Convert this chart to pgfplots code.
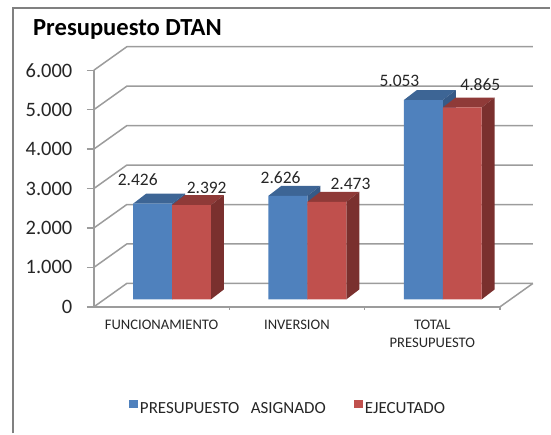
\documentclass[border=0pt]{standalone}
\usepackage{fontspec}
\setmainfont{Carlito}
\usepackage{pgfplots}
\pgfplotsset{compat=1.18}
\definecolor{wall}{HTML}{9C9C9C}
\definecolor{ink}{HTML}{262626}
\definecolor{azul}{HTML}{4F81BD}
\definecolor{azultop}{HTML}{3D6595}
\definecolor{azulside}{HTML}{365A87}
\definecolor{rojo}{HTML}{C0504D}
\definecolor{rojotop}{HTML}{8F3A38}
\definecolor{rojoside}{HTML}{7A302E}

% top and side of a bar: left edge, right edge, value, colours
\newcommand{\barfaces}[5]{%
  \pgfmathsetmacro{\xa}{#2+0.0959}%
  \pgfmathsetmacro{\xb}{#1+0.0959}%
  \pgfmathsetmacro{\vb}{#3+253}%
  \addplot[forget plot, fill=#4, draw=none, xshift=10.5pt, yshift=7.5pt]
    coordinates {(#1,#3) (#2,#3) (\xa,\vb) (\xb,\vb) (#1,#3)};
  \addplot[forget plot, fill=#5, draw=none, xshift=10.5pt, yshift=7.5pt]
    coordinates {(#2,0) (\xa,253) (\xa,\vb) (#2,#3) (#2,0)};
}
\newcommand{\vallabel}[5]{%
  \node[font=\fontsize{17.5}{17}\selectfont, text=ink, inner sep=0pt, xshift=#3pt, yshift=#4pt]
    at (axis cs:#1,#2) {#5};
}

\begin{document}
\begin{tikzpicture}
\path (-94pt,-126.7pt) rectangle (457pt,307.3pt);
\begin{axis}[
  scale only axis, width=406.7pt, height=237pt,
  xmin=0, xmax=3, ymin=0, ymax=6000, clip=false,
  axis lines*=left,
  axis line style={wall, line width=1.5pt},
  xtick={0.5,1.5,2.5},
  xticklabels={FUNCIONAMIENTO,INVERSION,TOTAL\\PRESUPUESTO},
  xtick style={draw=none},
  x tick label style={font=\fontsize{14.6}{18}\selectfont, text=ink, align=center, anchor=north, yshift=-3pt},
  ytick={0,1000,2000,3000,4000,5000,6000},
  scaled y ticks=false,
  ytick style={wall, line width=1.3pt},
  tick align=outside, major tick length=7pt,
  y tick label style={font=\fontsize{20.5}{20}\selectfont, text=ink, xshift=-11pt},
  /pgf/number format/1000 sep={.},
  /pgf/number format/assume math mode=true,
  legend style={draw=none, fill=none, at={(axis cs:0.2582,-2570)}, anchor=west, inner sep=0pt,
    legend columns=2, font=\fontsize{17}{17}\selectfont, text=ink,
    /tikz/every even column/.append style={column sep=26pt}},
  legend image code/.code={\fill[#1] (0pt,-7pt) rectangle (9pt,1pt);},
]
% walls
\pgfplotsinvokeforeach{0,1000,2000,3000,4000,5000,6000}{
  \pgfmathsetmacro{\vb}{#1+595}
  \addplot[forget plot, wall, line width=1.5pt] coordinates {(0,#1) (0.2434,\vb) (3.2434,\vb)};
}
\addplot[forget plot, wall, line width=1.5pt] coordinates {(3,0) (3.2434,595)};
\pgfplotsinvokeforeach{1,2,3}{
  \addplot[forget plot, wall, line width=1.3pt] coordinates {(#1,0) (#1,-90)};
}

% blue series
\barfaces{0.2123}{0.5}{2426}{azultop}{azulside}
\barfaces{1.2123}{1.5}{2626}{azultop}{azulside}
\barfaces{2.2123}{2.5}{5053}{azultop}{azulside}
\addplot[ybar, bar width=39pt, bar shift=-19.5pt, fill=azul, draw=none, xshift=10.5pt, yshift=7.5pt]
  coordinates {(0.5,2426) (1.5,2626) (2.5,5053)};
\addlegendentry{PRESUPUESTO\ \ \ ASIGNADO}

% red series
\barfaces{0.5}{0.7877}{2392}{rojotop}{rojoside}
\barfaces{1.5}{1.7877}{2473}{rojotop}{rojoside}
\barfaces{2.5}{2.7877}{4865}{rojotop}{rojoside}
\addplot[ybar, bar width=39pt, bar shift=19.5pt, fill=rojo, draw=none, xshift=10.5pt, yshift=7.5pt]
  coordinates {(0.5,2392) (1.5,2473) (2.5,4865)};
\addlegendentry{EJECUTADO}

\vallabel{0.5}{2426}{-23.8}{31.5}{2.426}
\vallabel{0.5}{2392}{45.2}{24.8}{2.392}
\vallabel{1.5}{2626}{-16.3}{25.6}{2.626}
\vallabel{1.5}{2473}{53.7}{25.6}{2.473}
\vallabel{2.5}{5053}{-32.9}{26.7}{5.053}
\vallabel{2.5}{4865}{48.1}{30.1}{4.865}
\end{axis}
% outer frame and title
\draw[color=gray, line width=1.6pt] (-81pt,-126.7pt) -- (-81pt,299.3pt) -- (457pt,299.3pt);
\node[anchor=west, inner sep=0pt, font=\fontsize{24.6}{24}\selectfont\bfseries, text=black] at (-61pt,277.3pt) {Presupuesto DTAN};
\end{tikzpicture}
\end{document}
